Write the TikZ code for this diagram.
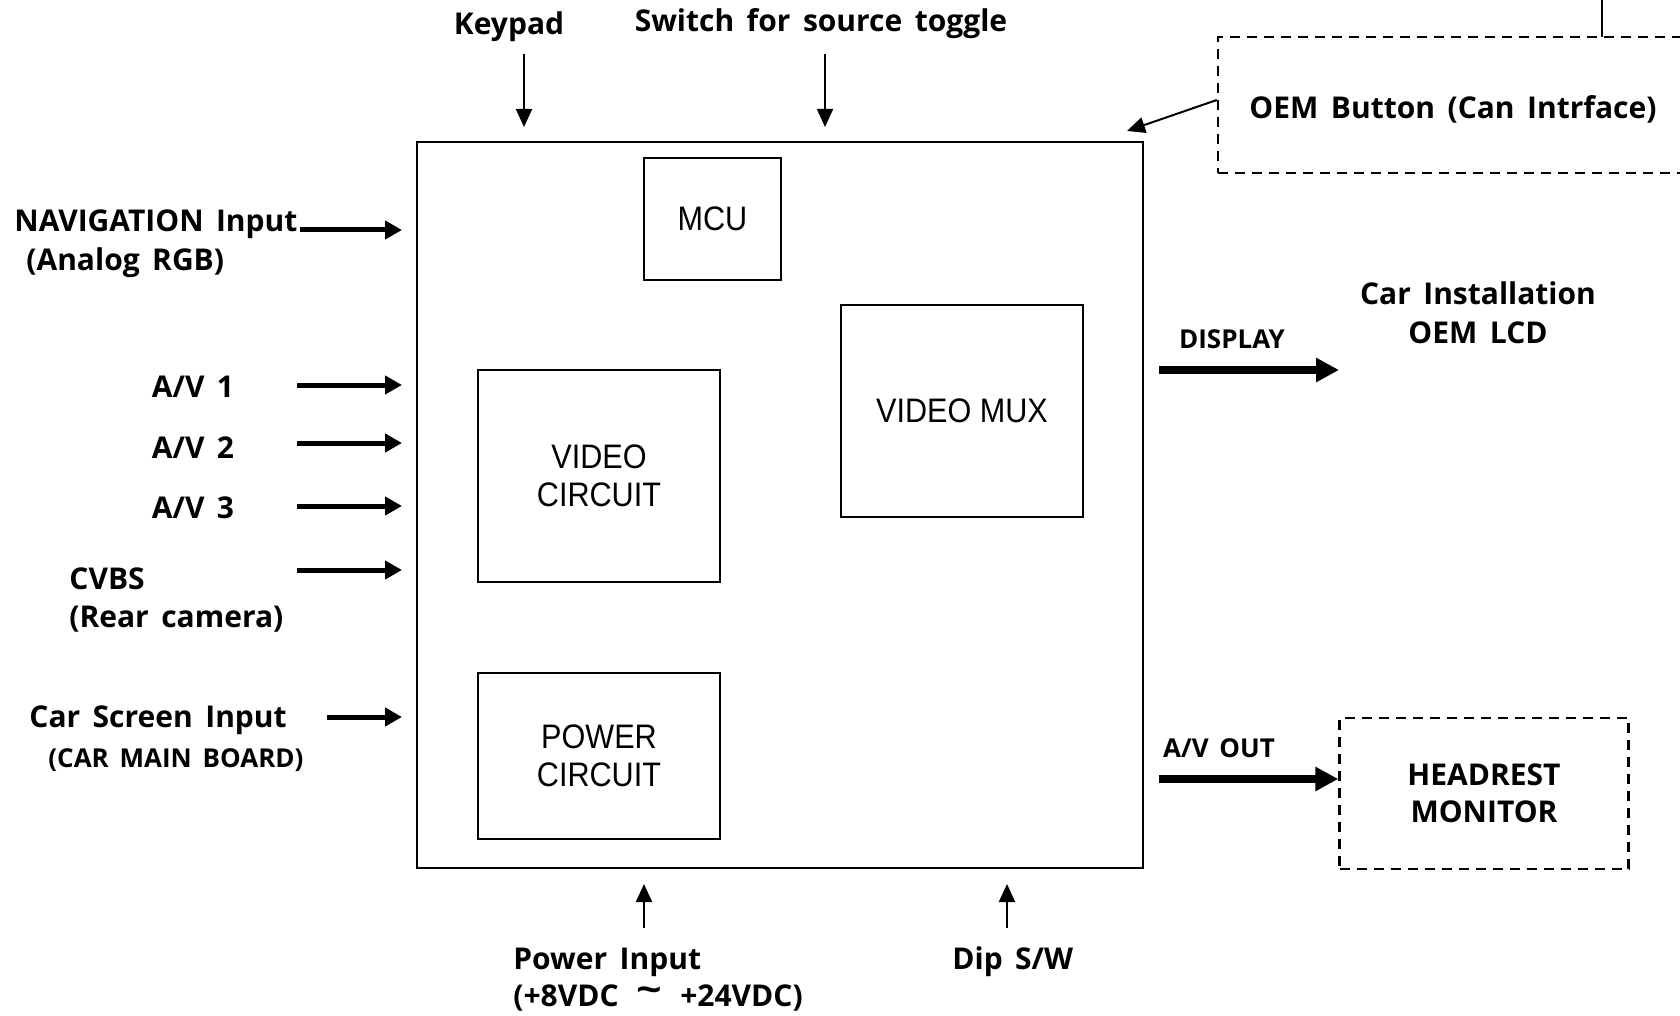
\documentclass[tikz,border=0pt]{standalone}
\usepackage{fontspec}
\setmainfont{Open Sans}[WordSpace=1.6]
\newfontfamily\boxfont[FakeStretch=0.9]{Liberation Sans}
\usetikzlibrary{arrows.meta}
\tikzset{
  lab/.style={inner sep=0pt, yshift=-1.5pt, font=\fontsize{15}{19.5}\selectfont\bfseries},
  smalllab/.style={inner sep=0pt, yshift=-1.5pt, font=\fontsize{13}{17}\selectfont\bfseries},
  blk/.style={draw, line width=1.2pt, inner sep=0pt, align=center,
    font=\fontsize{17}{19}\selectfont\boxfont},
  dashbox/.style={draw, line width=1.2pt, dash pattern=on 5pt off 3.5pt, inner sep=0pt, align=center,
    font=\fontsize{15}{18.5}\selectfont\bfseries},
  thinarrow/.style={line width=1pt, -{Triangle[length=9pt,width=8pt]}},
  inarrow/.style={line width=2.5pt, -{Triangle[length=8.5pt,width=9pt]}},
  outarrow/.style={line width=3.8pt, -{Triangle[length=11.5pt,width=11.5pt]}}
}
\begin{document}
\begin{tikzpicture}[x=0.5pt,y=-0.5pt]
\useasboundingbox (0,0) rectangle (1680,1016);
\clip (0,0) rectangle (1680,1016);
\fill[white] (0,0) rectangle (1680,1016);

% main box and inner blocks
\node[blk, minimum width=363pt, minimum height=363pt] (main) at (780,505) {};
\node[blk, minimum width=68.5pt, minimum height=61pt] (mcu) at (712.5,219) {MCU};
\node[blk, minimum width=121pt, minimum height=106pt] (mux) at (962,411) {VIDEO MUX};
\node[blk, minimum width=121pt, minimum height=106pt] (vc) at (599,476) {VIDEO\\[0pt]CIRCUIT};
\node[blk, minimum width=121pt, minimum height=83pt] (pc) at (599,756) {POWER\\[0pt]CIRCUIT};

% top labels
\node[lab] (keypad) at (509,24) {Keypad};
\node[lab] (switch) at (821,21) {Switch for source toggle};
\coordinate (k1) at (524,54); \coordinate (k2) at (524,127);
\coordinate (s1) at (825,54); \coordinate (s2) at (825,127);
\draw[thinarrow] (k1) -- (k2);
\draw[thinarrow] (s1) -- (s2);

% OEM button
\node[dashbox, minimum width=235pt, minimum height=68pt] (oem) at (1453,105) {};
\node[lab] (oemtxt) at (1453,106) {OEM Button (Can Intrface)};
\coordinate (o2) at (1127,131);
\draw[thinarrow] (oem.west |- 0,100) -- (o2);
\coordinate (t1) at (1602,0); \coordinate (t2) at (1602,37);
\draw[line width=1.2pt] (t1) -- (t2);

% left inputs
\node[lab, anchor=west] (nav) at (14,221) {NAVIGATION Input};
\node[lab, anchor=west] (nav2) at (26,260) {(Analog RGB)};
\coordinate (n1) at (300,230); \coordinate (n2) at (402,230);
\draw[inarrow] (n1) -- (n2);

\node[lab] (av1) at (193,384) {A/V 1};
\node[lab] (av2) at (193,445) {A/V 2};
\node[lab] (av3) at (193,505) {A/V 3};
\coordinate (a1s) at (297,385); \coordinate (a1e) at (402,385);
\coordinate (a2s) at (297,443); \coordinate (a2e) at (402,443);
\coordinate (a3s) at (297,506); \coordinate (a3e) at (402,506);
\draw[inarrow] (a1s) -- (a1e);
\draw[inarrow] (a2s) -- (a2e);
\draw[inarrow] (a3s) -- (a3e);

\node[lab, anchor=west] (cvbs) at (69,576) {CVBS};
\node[lab, anchor=west] (cvbs2) at (69,616) {(Rear camera)};
\coordinate (c1) at (297,570); \coordinate (c2) at (402,570);
\draw[inarrow] (c1) -- (c2);

\node[lab, anchor=west] (car) at (29,717) {Car Screen Input};
\node[smalllab, anchor=west] (car2) at (48,757) {(CAR MAIN BOARD)};
\coordinate (r1) at (327,717); \coordinate (r2) at (402,717);
\draw[inarrow] (r1) -- (r2);

% right outputs
\node[smalllab] (disp) at (1232,336) {DISPLAY};
\node[lab, align=center] (lcd) at (1478,310) {Car Installation\\OEM LCD};
\coordinate (d1) at (1159,370); \coordinate (d2) at (1339,370);
\draw[outarrow] (d1) -- (d2);

\node[smalllab] (avout) at (1219,745) {A/V OUT};
\node[dashbox, minimum width=144.5pt, minimum height=75.5pt] (head) at (1484,793.5) {HEADREST\\MONITOR};
\coordinate (h1) at (1159,779);
\draw[outarrow] (h1) -- (head.west |- h1);

% bottom inputs
\node[lab, anchor=west] (pwr) at (513,959) {Power Input};
\node[lab, anchor=west] (pwr2) at (513,995) {(+8VDC\hspace{9pt}\raisebox{0.25ex}{\scalebox{1.5}[1.2]{\textasciitilde}}\hspace{9pt}+24VDC)};
\coordinate (p1) at (644,928); \coordinate (p2) at (644,884);
\draw[thinarrow] (p1) -- (p2);

\node[lab, anchor=west] (dip) at (952,959) {Dip S/W};
\coordinate (q1) at (1007,928); \coordinate (q2) at (1007,884);
\draw[thinarrow] (q1) -- (q2);
\end{tikzpicture}
\end{document}
